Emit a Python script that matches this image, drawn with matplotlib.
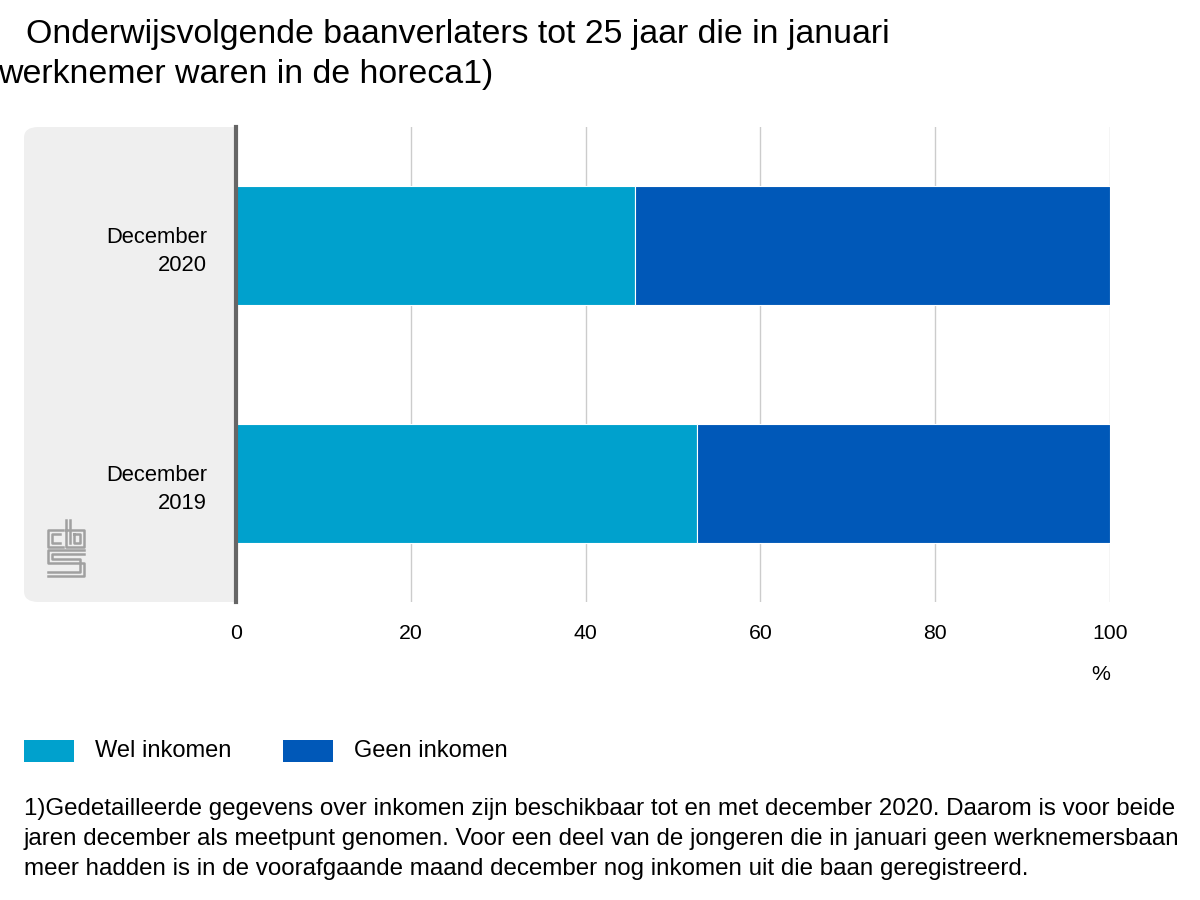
import matplotlib.pyplot as plt
from matplotlib.patches import FancyBboxPatch, Rectangle

plt.rcParams['font.family'] = ['Liberation Sans', 'DejaVu Sans']

categories = ['December\n2019', 'December\n2020']
wel_inkomen = [52.7, 45.6]
geen_inkomen = [47.3, 54.4]
series_names = ['Wel inkomen', 'Geen inkomen']
colors = ['#00a1cd', '#0058b8']
xticks = [0, 20, 40, 60, 80, 100]
title_lines = ['Onderwijsvolgende baanverlaters tot 25 jaar die in januari',
               'werknemer waren in de horeca1)']
footnote = ('1)Gedetailleerde gegevens over inkomen zijn beschikbaar tot en met december 2020. Daarom is voor beide\n'
            'jaren december als meetpunt genomen. Voor een deel van de jongeren die in januari geen werknemersbaan\n'
            'meer hadden is in de voorafgaande maand december nog inkomen uit die baan geregistreerd.')

W, H = 1200, 900
fig = plt.figure(figsize=(12, 9), dpi=100)

def fx(px):
    return px / W

def fy(py):
    return 1 - py / H

# grey label panel, behind the axes
panel = FancyBboxPatch((fx(24), fy(602)), fx(236) - fx(24), fy(127) - fy(602),
                       boxstyle='round,pad=0,rounding_size=0.012',
                       transform=fig.transFigure, facecolor='#efefef',
                       edgecolor='none', zorder=-2)
fig.patches.append(panel)
fig.patches.append(Rectangle((fx(200), fy(602)), fx(236) - fx(200), fy(127) - fy(602),
                             transform=fig.transFigure, facecolor='#efefef',
                             edgecolor='none', zorder=-2))

ax = fig.add_axes([fx(236), fy(602), fx(1110) - fx(236), fy(127) - fy(602)])
ax.patch.set_alpha(0)

y = range(len(categories))
ax.barh(y, wel_inkomen, height=0.5, color=colors[0], label=series_names[0],
        edgecolor='white', linewidth=0.8, zorder=2)
ax.barh(y, geen_inkomen, left=wel_inkomen, height=0.5, color=colors[1],
        label=series_names[1], edgecolor='white', linewidth=0.8, zorder=2)

ax.set_xlim(0, 100)
ax.set_ylim(-0.5, 1.5)
ax.set_xticks(xticks)
ax.set_xticklabels([str(t) for t in xticks], fontsize=15.3)
ax.set_yticks(list(y))
ax.set_yticklabels(categories, fontsize=15.8, linespacing=1.45)
ax.tick_params(axis='both', length=0)
ax.tick_params(axis='x', pad=16)
ax.tick_params(axis='y', pad=21)
ax.xaxis.grid(True, color='#cccccc', linewidth=1, zorder=0)
ax.set_axisbelow(True)
for s in ['top', 'right', 'bottom']:
    ax.spines[s].set_visible(False)
ax.spines['left'].set_color('#666666')
ax.spines['left'].set_linewidth(3)
ax.spines['left'].set_zorder(3)

fig.text(fx(1101), fy(675), '%', fontsize=15.3, ha='center', va='center')

# title
fig.text(fx(26), fy(35), title_lines[0], fontsize=24.4, va='center', ha='left')
fig.text(fx(-2), fy(75), title_lines[1], fontsize=24.4, va='center', ha='left')

# legend
for i, (name, c) in enumerate(zip(series_names, colors)):
    x0 = [24, 283][i]
    fig.patches.append(Rectangle((fx(x0), fy(762)), fx(50), fy(740) - fy(762),
                                 transform=fig.transFigure, facecolor=c, edgecolor='none'))
    fig.text(fx(x0 + 71), fy(751), name, fontsize=17, va='center', ha='left')

fig.text(fx(24), fy(839), footnote, fontsize=17.35, va='center', ha='left', linespacing=1.47)

# cbs logo, drawn roughly with lines
lg = dict(color='#a0a0a0', linewidth=1.8, transform=fig.transFigure)
def pline(xs, ys):
    fig.lines.append(plt.Line2D([fx(v) for v in xs], [fy(v) for v in ys], **lg))

pline([63, 48, 48, 63], [530, 530, 547, 547])
pline([60, 52, 52, 60], [534, 534, 543, 543])
pline([66, 66, 84, 84, 66], [520, 547, 547, 530, 530])
pline([70, 70], [520, 543])
pline([74, 80, 80, 74, 74], [534, 534, 543, 543, 534])
pline([84, 48, 48, 84, 84, 48], [550, 550, 563, 563, 576, 576])
pline([84, 52, 52, 80, 80, 48], [554, 554, 559, 559, 572, 572])

fig.savefig('out.png', dpi=100)
